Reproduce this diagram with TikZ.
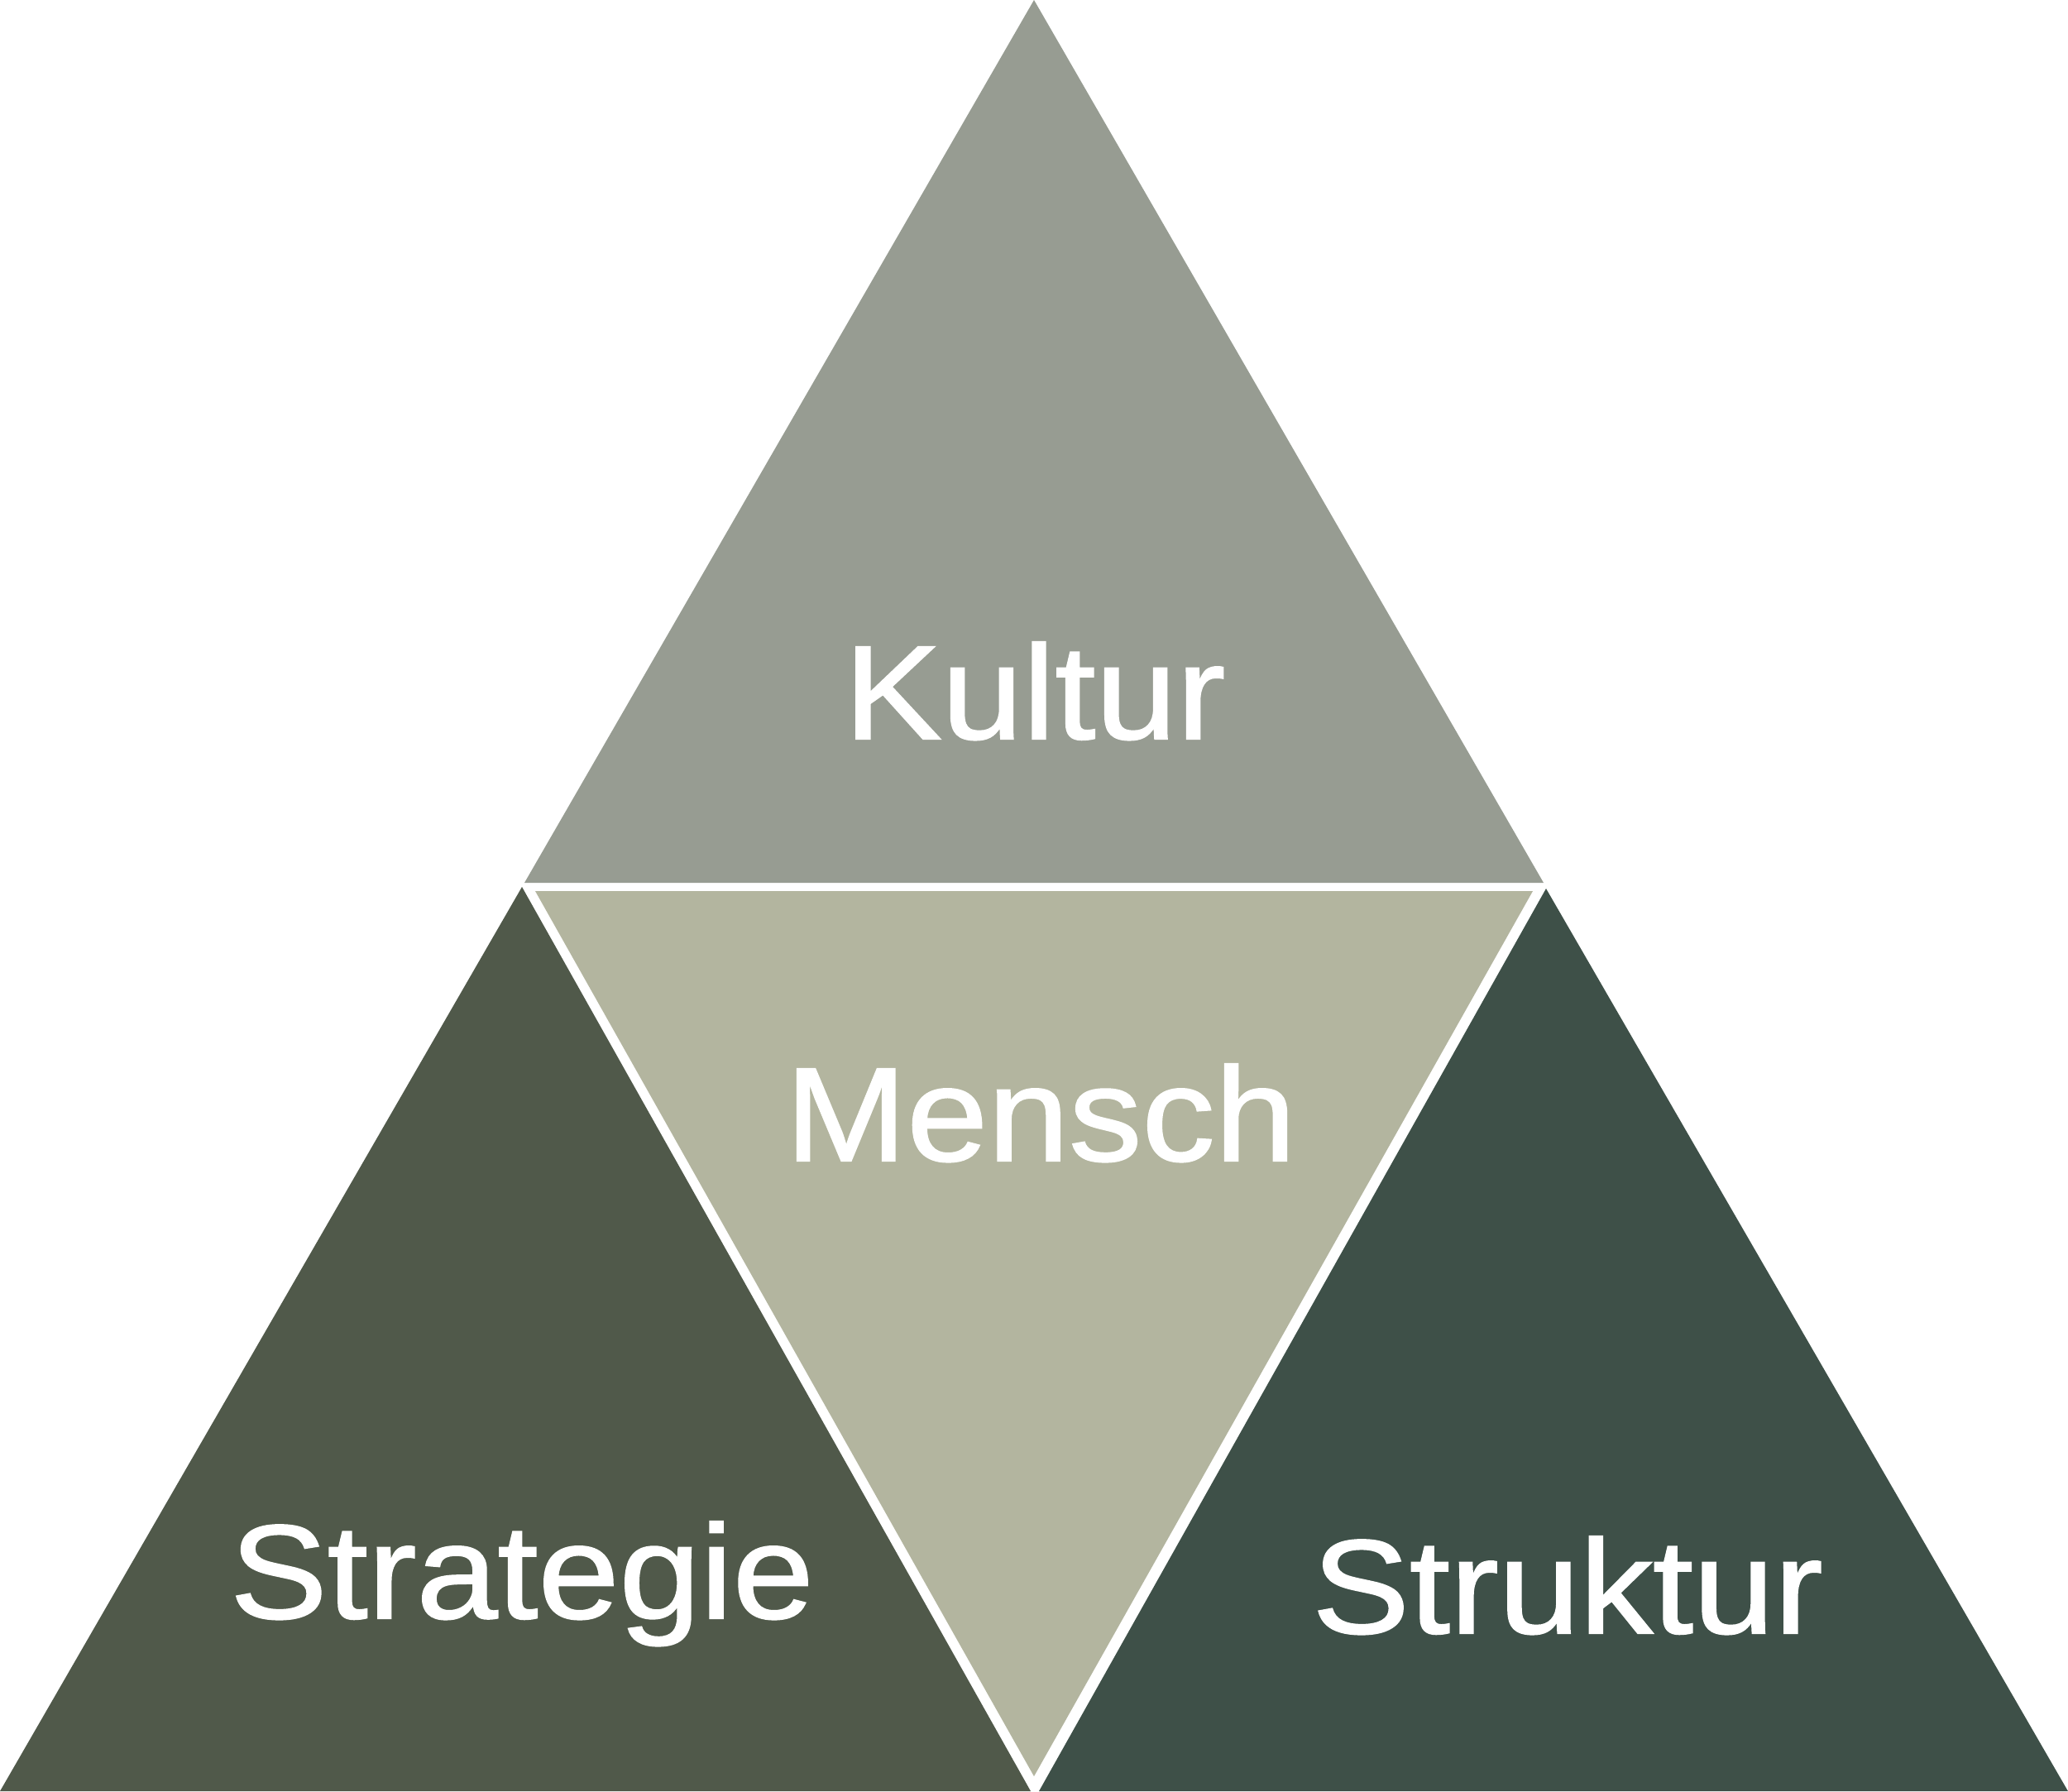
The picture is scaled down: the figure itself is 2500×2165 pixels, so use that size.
\documentclass[tikz,border=0pt]{standalone}
\usepackage{fontspec}
\setmainfont{Liberation Sans}[FakeStretch=1.09,FakeBold=1.2]
\definecolor{kultur}{RGB}{151,156,146}
\definecolor{mensch}{RGB}{179,181,159}
\definecolor{strategie}{RGB}{80,89,74}
\definecolor{struktur}{RGB}{62,80,72}
\tikzset{
  lbl/.style={text=white, anchor=base, inner sep=0pt, font=\fontsize{46}{50}\selectfont}
}
\begin{document}
\begin{tikzpicture}[x=0.01cm,y=-0.01cm]
\useasboundingbox (0,0) rectangle (2500,2165);
\fill[white] (0,0) rectangle (2500,2165);
% Kultur
\fill[kultur] (1250,0) -- (1866,1067) -- (634,1067) -- cycle;
% Mensch
\fill[mensch] (647,1077) -- (1853,1077) -- (1250,2147) -- cycle;
% Strategie
\fill[strategie] (631,1072) -- (1246,2165) -- (0,2165) -- cycle;
% Struktur
\fill[struktur] (1869,1074) -- (2500,2165) -- (1256,2165) -- cycle;
\node[lbl] (kul) at (1251,893) {Kultur};
\node[lbl] (men) at (1258,1403) {Mensch};
\node[lbl] (str) at (631,1956) {Strategie};
\node[lbl] (stk) at (1895,1974) {Struktur};
\end{tikzpicture}
\end{document}
